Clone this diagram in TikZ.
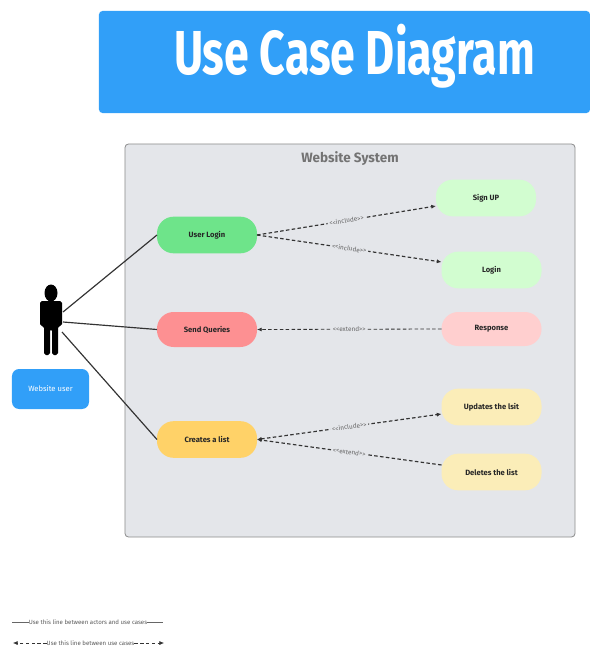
\documentclass[tikz,border=0pt]{standalone}
\usepackage{fontspec}
\setmainfont{Fira Sans}
\usetikzlibrary{arrows.meta}
\definecolor{bannerblue}{HTML}{319FF8}
\definecolor{systemgray}{HTML}{E4E6EA}
\definecolor{loginGreen}{HTML}{6EE48A}
\definecolor{queryRed}{HTML}{FD9092}
\definecolor{listYellow}{HTML}{FFD268}
\definecolor{paleGreen}{HTML}{D2FDD0}
\definecolor{paleRed}{HTML}{FFCFCF}
\definecolor{paleYellow}{HTML}{FBEDB8}
\begin{document}
\begin{tikzpicture}[x=0.03cm, y=-0.03cm]
\tikzset{ >={Latex[length=4pt,width=3.5pt]}, inner sep=0pt, outer sep=0pt,
  usecase/.style={rounded corners=0.5cm, minimum width=3cm, minimum height=1.1cm, font=\fontsize{6.5}{8}\selectfont\bfseries, text=black!85},
  assoc/.style={draw=black!80, line width=1pt},
  dep/.style={draw=black!80, line width=1pt, densely dashed},
  deplabel/.style={fill=systemgray, inner sep=1.5pt, sloped, font=\fontsize{5.5}{6}\selectfont, text=black!60},
  legendtext/.style={font=\fontsize{5.2}{6}\selectfont, text=black!65}
}
\useasboundingbox (0,0) rectangle (590,646);

%%% Blocos

% banner
\node [fill=bannerblue, rounded corners=3pt, minimum width=14.73cm, minimum height=3.06cm] (banner) at (344.5,62) { };
\node [text=white, font=\fontsize{53}{54}\selectfont\bfseries, xscale=0.72] (title) at (354.5,56.5) {Use Case Diagram};

% system
\node [fill=systemgray, draw=black!45, line width=0.7pt, rounded corners=3pt, minimum width=13.5cm, minimum height=11.79cm] (system) at (350,340.5) { };
\node [text=black!55, font=\fontsize{11.5}{14}\selectfont\bfseries] (systemname) at (350,159) {Website System};

% actor
\node [minimum width=0.66cm, minimum height=2.1cm] (actor) at (51,320) { };
\fill (51,293) ellipse (6.5 and 8.5);
\fill [rounded corners=1.5pt] (40,301) -- (62,301) -- (62,326) -- (58,326) -- (58,355) -- (52,355) -- (52,329) -- (50,329) -- (50,355) -- (44,355) -- (44,326) -- (40,326) -- cycle;
\coordinate (actorA) at (63,312);
\coordinate (actorB) at (63,322);
\coordinate (actorC) at (62,332);
\node [fill=bannerblue, rounded corners=6pt, minimum width=2.31cm, minimum height=1.2cm, text=white, font=\fontsize{6.5}{8}\selectfont] (user) at (50.5,389) {Website user};

% casos de uso
\node [usecase, fill=loginGreen] (login) at (207,235) {\raisebox{-0.8pt}{User Login}};
\node [usecase, fill=queryRed, minimum height=1.05cm] (queries) at (207,329.5) {\raisebox{-0.8pt}{Send Queries}};
\node [usecase, fill=listYellow] (list) at (207,439.5) {\raisebox{-0.8pt}{Creates a list}};
\node [usecase, fill=paleGreen] (signup) at (486,198) {\raisebox{-0.8pt}{Sign UP}};
\node [usecase, fill=paleGreen] (loginb) at (491.5,270) {\raisebox{-0.8pt}{Login}};
\node [usecase, fill=paleRed, minimum height=1.02cm] (response) at (491.5,329) {\raisebox{-0.8pt}{Response}};
\node [usecase, fill=paleYellow] (updates) at (491.5,407) {\raisebox{-0.8pt}{Updates the lsit}};
\node [usecase, fill=paleYellow] (deletes) at (491.5,472) {\raisebox{-0.8pt}{Deletes the list}};

%%% Linhas

% ator -> casos de uso
\draw [assoc] (actorA) -- (login.west);
\draw [assoc] (actorB) -- (queries.west);
\draw [assoc] (actorC) -- (list.west);

% include / extend
\draw [dep, ->] (login.east) -- node [deplabel] {<{}<include>{}>} (signup.west |- 0,206);
\draw [dep, ->] (login.east) -- node [deplabel] {<{}<include>{}>} (loginb.west |- 0,262);
\draw [dep, line width=0.7pt, ->] (response.west) -- node [deplabel] {<{}<extend>{}>} (queries.east);
\draw [dep, <->] (list.east) -- node [deplabel] {<{}<include>{}>} (updates.west |- 0,414);
\draw [dep, ->] (deletes.west |- 0,465) -- node [deplabel] {<{}<extend>{}>} (list.east);

%%% Legenda
\node [legendtext] (legendA) at (88,622.5) {Use this line between actors and use cases};
\coordinate (legendAl) at (12,622.5);
\coordinate (legendAr) at (163,622.5);
\draw [black!60, line width=0.6pt] (legendAl) -- (legendA);
\draw [black!60, line width=0.6pt] (legendA) -- (legendAr);
\node [legendtext] (legendB) at (90.5,643) {Use this line between use cases};
\coordinate (legendBl) at (13,643);
\coordinate (legendBr) at (164,643);
\draw [black!80, line width=0.5pt, densely dashed, ->] (legendB) -- (legendBl);
\draw [black!80, line width=0.5pt, densely dashed, ->] (legendB) -- (legendBr);

\end{tikzpicture}
\end{document}
